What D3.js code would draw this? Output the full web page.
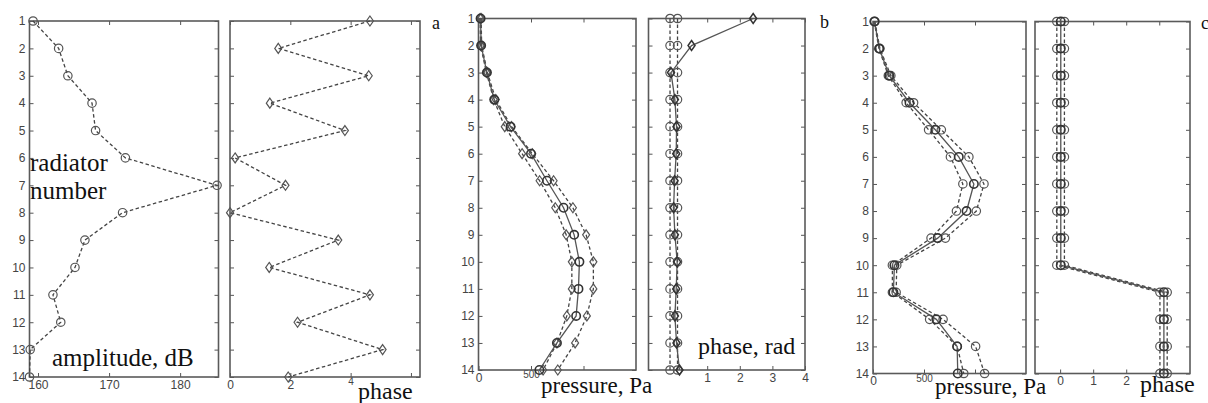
<!DOCTYPE html>
<html>
<head>
<meta charset="utf-8">
<script src="https://cdn.jsdelivr.net/npm/d3@7"></script>
<style>
  body { margin: 0; background: #fff; }
  svg { display: block; }
  .tick text { font-family: "Liberation Sans", Arial, sans-serif; font-size: 12px; fill: #444; }
  .tick line { stroke: #555; }
  .lbl { font-family: "Liberation Serif", "Times New Roman", serif; fill: #111; }
</style>
</head>
<body>
<script>
// radiator numbers (y axis of every panel)
const radiators = [1, 2, 3, 4, 5, 6, 7, 8, 9, 10, 11, 12, 13, 14];

// a: amplitude (dB) and phase
const amplitudeA = [159.3, 162.9, 164.2, 167.6, 168.1, 172.3, 185.2, 171.9, 166.6, 165.2, 162.1, 163.2, 158.9, 158.8];
const phaseA = [4.64, 1.60, 4.60, 1.32, 3.81, 0.17, 1.84, 0.0, 3.59, 1.30, 4.64, 2.24, 5.06, 1.93];

// b: pressure (Pa), three curves
const pressureBLow = [15, 20, 75, 145, 250, 415, 582, 731, 835, 889, 889, 841, 747, 615];
const pressureBMid = [20, 25, 80, 150, 305, 500, 652, 810, 911, 961, 952, 930, 747, 580];
const pressureBHigh = [25, 30, 85, 165, 315, 512, 715, 899, 1025, 1094, 1094, 1032, 920, 755];

// b: phase (rad)
const phaseBLow = [-0.14, -0.14, -0.14, -0.14, -0.14, -0.14, -0.14, -0.14, -0.14, -0.14, -0.14, -0.14, -0.14, -0.14];
const phaseBMid = [2.41, 0.52, -0.11, 0.01, 0.06, 0.05, 0.0, -0.03, 0.01, 0.08, 0.05, 0.01, 0.06, 0.15];
const phaseBHigh = [0.09, 0.09, 0.09, 0.09, 0.09, 0.09, 0.09, 0.09, 0.09, 0.09, 0.09, 0.09, 0.09, 0.09];

// c: pressure (Pa)
const pressureCLow = [12, 58, 150, 325, 545, 759, 881, 818, 569, 190, 190, 555, 825, 890];
const pressureCMid = [15, 62, 160, 358, 611, 841, 989, 917, 634, 210, 200, 621, 825, 831];
const pressureCHigh = [18, 68, 175, 398, 670, 940, 1088, 1013, 710, 233, 227, 687, 1006, 1094];

// c: phase
const phaseCLow = [-0.10, -0.10, -0.10, -0.10, -0.10, -0.10, -0.10, -0.10, -0.10, -0.10, 3.02, 3.02, 3.02, 3.02];
const phaseCMid = [0.02, 0.02, 0.02, 0.02, 0.02, 0.02, 0.02, 0.02, 0.02, 0.02, 3.14, 3.14, 3.14, 3.14];
const phaseCHigh = [0.13, 0.13, 0.13, 0.13, 0.13, 0.13, 0.13, 0.13, 0.13, 0.13, 3.24, 3.24, 3.24, 3.24];

// x ticks
const ticksA1 = [160, 170, 180];
const ticksA2 = [0, 2, 4, 6];
const labelsA2 = [0, 2, 4];
const ticksPressure = [0, 500, 1000];
const labelsPressure = [0, 500];
const ticksB2 = [1, 2, 3, 4];
const ticksC2 = [0, 1, 2, 3];
const labelsC2 = [0, 1, 2];

const w = 1208;
const h = 403;

const svg = d3.select("body").append("svg")
    .attr("width", w)
    .attr("height", h);

const dashed = "3.5,2.5";

// panel layout; "small" = tick labels squeezed in next to the axis title
const panels = [
    { x0: 29.5, x1: 218.5, y0: 21, y1: 377, domain: [158.8, 185.4], ticks: ticksA1, labels: ticksA1, small: [], yLabels: true,
      series: [{ v: amplitudeA, dash: dashed, marker: "circle" }] },
    { x0: 230, x1: 420, y0: 21, y1: 377, domain: [0, 6.3], ticks: ticksA2, labels: labelsA2, small: [4], yLabels: false,
      series: [{ v: phaseA, dash: dashed, marker: "diamond" }] },
    { x0: 478.5, x1: 636, y0: 18.5, y1: 370, domain: [0, 1500], ticks: ticksPressure, labels: labelsPressure, small: [500], yLabels: true,
      series: [{ v: pressureBLow, dash: dashed, marker: "diamond" },
               { v: pressureBHigh, dash: dashed, marker: "diamond" },
               { v: pressureBMid, dash: null, marker: "circle", dark: true }] },
    { x0: 648.5, x1: 805, y0: 18.5, y1: 370, domain: [-0.8, 4], ticks: ticksB2, labels: ticksB2, small: [], yLabels: false,
      series: [{ v: phaseBLow, dash: dashed, marker: "circle" },
               { v: phaseBHigh, dash: dashed, marker: "circle" },
               { v: phaseBMid, dash: null, marker: "diamond", dark: true }] },
    { x0: 873, x1: 1026, y0: 21.5, y1: 373.5, domain: [0, 1500], ticks: ticksPressure, labels: labelsPressure, small: [500], yLabels: true,
      series: [{ v: pressureCLow, dash: dashed, marker: "circle" },
               { v: pressureCHigh, dash: dashed, marker: "circle" },
               { v: pressureCMid, dash: null, marker: "circle", dark: true }] },
    { x0: 1035, x1: 1190, y0: 21.5, y1: 373.5, domain: [-0.76, 3.93], ticks: ticksC2, labels: labelsC2, small: [], yLabels: false,
      series: [{ v: phaseCLow, dash: dashed, marker: "circle" },
               { v: phaseCHigh, dash: dashed, marker: "circle" },
               { v: phaseCMid, dash: null, marker: "circle", dark: true }] }
];

const diamondPath = "M0,-5L3.5,0L0,5L-3.5,0Z";

panels.forEach(p => {
    const xScale = d3.scaleLinear().domain(p.domain).range([p.x0, p.x1]);
    const yScale = d3.scaleLinear().domain([1, 14]).range([p.y0, p.y1]);

    const g = svg.append("g");

    // inward ticks on all four sides
    g.append("g")
        .attr("transform", `translate(${p.x0},0)`)
        .call(d3.axisLeft(yScale).tickValues(radiators).tickSizeInner(-4).tickSizeOuter(0).tickPadding(4)
            .tickFormat(d => p.yLabels ? d : ""));
    g.append("g")
        .attr("transform", `translate(${p.x1},0)`)
        .call(d3.axisRight(yScale).tickValues(radiators).tickSizeInner(-4).tickSizeOuter(0).tickFormat(""));
    const xAxisG = g.append("g")
        .attr("transform", `translate(0,${p.y1})`)
        .call(d3.axisBottom(xScale).tickValues(p.ticks).tickSizeInner(-4).tickSizeOuter(0).tickPadding(3)
            .tickFormat(d => p.labels.includes(d) ? d : ""));
    xAxisG.selectAll(".tick text")
        .filter(d => p.small.includes(d))
        .style("font-size", "10px")
        .attr("y", 1);
    g.append("g")
        .attr("transform", `translate(0,${p.y0})`)
        .call(d3.axisTop(xScale).tickValues(p.ticks).tickSizeInner(-4).tickSizeOuter(0).tickFormat(""));
    g.selectAll(".domain").remove();

    g.append("rect")
        .attr("x", p.x0)
        .attr("y", p.y0)
        .attr("width", p.x1 - p.x0)
        .attr("height", p.y1 - p.y0)
        .attr("fill", "none")
        .attr("stroke", "#5a5a5a")
        .attr("stroke-width", 1.6);

    const line = d3.line()
        .x(d => xScale(d[0]))
        .y(d => yScale(d[1]));

    p.series.forEach(s => {
        const pts = s.v.map((v, i) => [v, radiators[i]]);
        g.append("path")
            .datum(pts)
            .attr("d", line)
            .attr("fill", "none")
            .attr("stroke", s.dark ? "#555" : "#444")
            .attr("stroke-width", 1.3)
            .attr("stroke-dasharray", s.dash);

        if (s.marker === "circle") {
            g.selectAll(null)
                .data(pts)
                .enter()
                .append("circle")
                .attr("cx", d => xScale(d[0]))
                .attr("cy", d => yScale(d[1]))
                .attr("r", 4.2)
                .attr("fill", "none")
                .attr("stroke", s.dark ? "#333" : "#555")
                .attr("stroke-width", s.dark ? 1.6 : 1.2);
        } else {
            g.selectAll(null)
                .data(pts)
                .enter()
                .append("path")
                .attr("d", diamondPath)
                .attr("transform", d => `translate(${xScale(d[0])},${yScale(d[1])})`)
                .attr("fill", "none")
                .attr("stroke", s.dark ? "#333" : "#555")
                .attr("stroke-width", s.dark ? 1.5 : 1.2);
        }
    });
});

// text labels
const labels = [
    { t: "radiator", x: 30, y: 171, s: 25 },
    { t: "number", x: 30, y: 199, s: 25 },
    { t: "amplitude, dB", x: 52, y: 366, s: 25 },
    { t: "phase", x: 358, y: 399, s: 24 },
    { t: "a", x: 432, y: 29, s: 18 },
    { t: "pressure, Pa", x: 541, y: 393, s: 23 },
    { t: "phase, rad", x: 698, y: 354, s: 24 },
    { t: "b", x: 820, y: 28, s: 18 },
    { t: "pressure, Pa", x: 935, y: 394, s: 23 },
    { t: "phase", x: 1140, y: 392, s: 24 },
    { t: "c", x: 1201, y: 29, s: 18 }
];

svg.selectAll(".lbl")
    .data(labels)
    .enter()
    .append("text")
    .attr("class", "lbl")
    .attr("x", d => d.x)
    .attr("y", d => d.y)
    .style("font-size", d => d.s + "px")
    .text(d => d.t);
</script>
</body>
</html>
